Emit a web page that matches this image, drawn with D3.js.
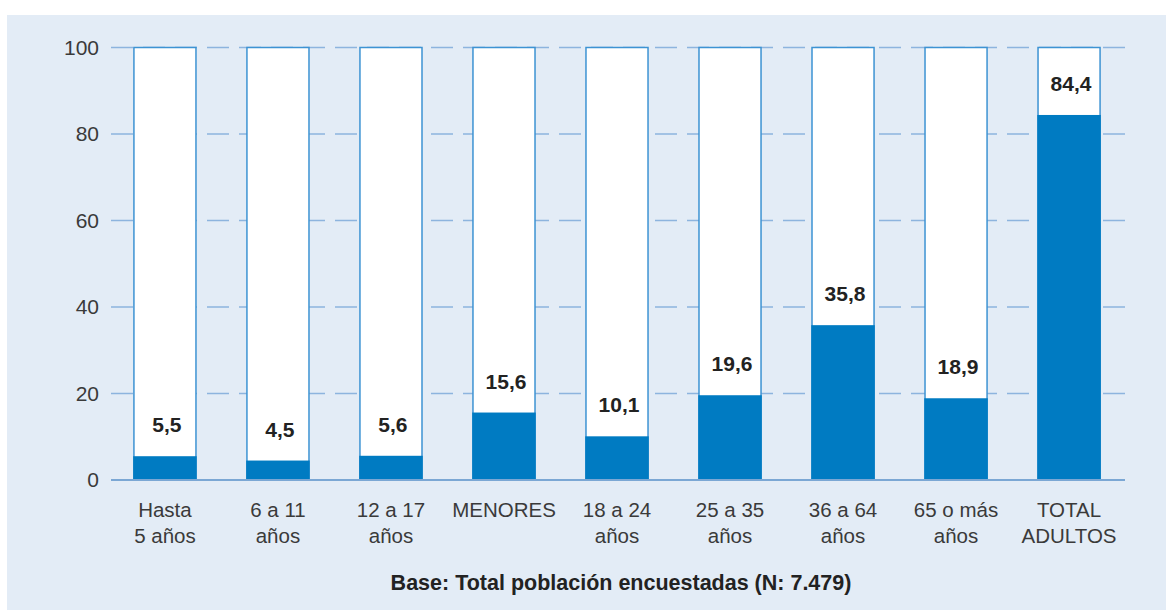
<!DOCTYPE html>
<html>
<head>
<meta charset="utf-8">
<script src="https://cdn.jsdelivr.net/npm/d3@7"></script>
<style>
  body { margin: 0; background: #fff; }
  text { font-family: "Liberation Sans", Arial, sans-serif; }
</style>
</head>
<body>
<svg id="chart" width="1166" height="610"></svg>
<script>
// categories (two lines each) and values
const categories = [
  ["Hasta", "5 años"], ["6 a 11", "años"], ["12 a 17", "años"], ["MENORES"],
  ["18 a 24", "años"], ["25 a 35", "años"], ["36 a 64", "años"],
  ["65 o más", "años"], ["TOTAL", "ADULTOS"]
];
const values = [5.5, 4.5, 5.6, 15.6, 10.1, 19.6, 35.8, 18.9, 84.4];
const yTicks = [0, 20, 40, 60, 80, 100];
const footnote = "Base: Total población encuestadas (N: 7.479)";

const svg = d3.select("#chart");

// panel background
svg.append("rect")
  .attr("x", 7).attr("y", 15)
  .attr("width", 1159).attr("height", 595)
  .attr("fill", "#e3ecf6");

const x = d3.scaleBand()
  .domain(d3.range(categories.length))
  .range([108.5, 1125.5])
  .paddingInner(0.451)
  .paddingOuter(0.225);

const y = d3.scaleLinear().domain([0, 100]).range([480, 47.5]);

// grid lines
svg.append("g").selectAll("line")
  .data(yTicks.filter(d => d > 0))
  .join("line")
    .attr("x1", 111).attr("x2", 1125)
    .attr("y1", d => y(d)).attr("y2", d => y(d))
    .attr("stroke", "#8db4de")
    .attr("stroke-width", 1.5)
    .attr("stroke-dasharray", "22,10");

// y labels
svg.append("g").selectAll("text")
  .data(yTicks)
  .join("text")
    .attr("x", 99)
    .attr("y", d => y(d))
    .attr("dy", "0.35em")
    .attr("text-anchor", "end")
    .attr("font-size", 21)
    .attr("fill", "#3a3a3a")
    .text(d => d);

// bars: white 100% frame + blue fill
const bars = svg.append("g").selectAll("g")
  .data(values)
  .join("g");

bars.append("rect")
  .attr("x", (d, i) => x(i))
  .attr("y", y(100))
  .attr("width", x.bandwidth())
  .attr("height", y(0) - y(100))
  .attr("fill", "#fff")
  .attr("stroke", "#3d93d3")
  .attr("stroke-width", 1.5);

bars.append("rect")
  .attr("x", (d, i) => x(i) - 0.75)
  .attr("y", d => y(d))
  .attr("width", x.bandwidth() + 1.5)
  .attr("height", d => y(0) - y(d))
  .attr("fill", "#007bc2");

bars.append("text")
  .attr("x", (d, i) => x(i) + x.bandwidth() / 2 + 2)
  .attr("y", d => y(d) - 24)
  .attr("text-anchor", "middle")
  .attr("font-size", 21)
  .attr("font-weight", "bold")
  .attr("fill", "#222")
  .text(d => d3.format(".1f")(d).replace(".", ","));

// baseline
svg.append("line")
  .attr("x1", 111).attr("x2", 1125)
  .attr("y1", y(0)).attr("y2", y(0))
  .attr("stroke", "#7ba7d4")
  .attr("stroke-width", 2);

// category labels
const cat = svg.append("g").selectAll("text")
  .data(categories)
  .join("text")
    .attr("x", (d, i) => x(i) + x.bandwidth() / 2)
    .attr("y", 517)
    .attr("text-anchor", "middle")
    .attr("font-size", 20.5)
    .attr("fill", "#3a3a3a");
cat.selectAll("tspan")
  .data(d => d)
  .join("tspan")
    .attr("x", function () { return d3.select(this.parentNode).attr("x"); })
    .attr("dy", (d, i) => i === 0 ? 0 : 26)
    .text(d => d);

svg.append("text")
  .attr("x", 621)
  .attr("y", 590)
  .attr("text-anchor", "middle")
  .attr("font-size", 21.5)
  .attr("font-weight", "bold")
  .attr("fill", "#222")
  .text(footnote);
</script>
</body>
</html>
